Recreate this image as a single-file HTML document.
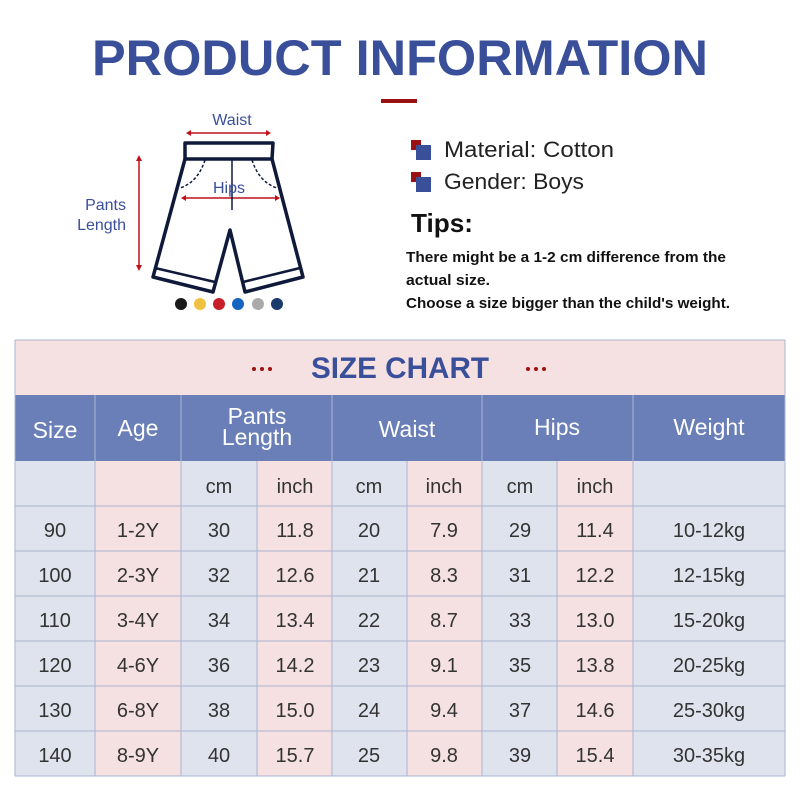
<!DOCTYPE html>
<html><head><meta charset="utf-8"><style>body{margin:0;background:#fff}svg{display:block}</style></head>
<body>
<svg width="800" height="800" viewBox="0 0 800 800" xmlns="http://www.w3.org/2000/svg" font-family="Liberation Sans, sans-serif">
<rect width="800" height="800" fill="#fff"/>
<text x="400" y="75" text-anchor="middle" font-size="50" font-weight="bold" fill="#3a4f9a" textLength="616" lengthAdjust="spacingAndGlyphs">PRODUCT INFORMATION</text>
<rect x="381" y="99" width="36" height="4" fill="#9b1010"/>
<!-- shorts -->
<g stroke="#c0101a" stroke-width="1.5" fill="#c0101a">
<line x1="189" y1="133" x2="268" y2="133"/><path d="M186 133l5-3v6zM271 133l-5-3v6z" stroke="none"/>
<line x1="184" y1="198" x2="277" y2="198"/><path d="M181 198l5-3v6zM280 198l-5-3v6z" stroke="none"/>
<line x1="139" y1="158" x2="139" y2="268"/><path d="M139 155l-3 6h6zM139 271l-3-6h6z" stroke="none"/>
</g>
<g fill="none" stroke="#0f1a3a" stroke-width="3.5" stroke-linejoin="round">
<path d="M185 143 L273 143 L272 159 L185 159 Z"/>
<path d="M185 159 L153 277 L213 292 L230 230 L245 292 L303 277 L272 159"/>
<path d="M155 268 L215 282 M243 282 L300 268" stroke-width="2.5"/>
</g>
<g fill="none" stroke="#0f1a3a" stroke-width="1.5" stroke-dasharray="3 2">
<path d="M205 160 Q198 182 180 188"/><path d="M252 160 Q259 182 277 188"/>
</g>
<line x1="232" y1="160" x2="232" y2="210" stroke="#0f1a3a" stroke-width="1.5"/>
<text x="232" y="125" text-anchor="middle" font-size="16" fill="#3a4f9a">Waist</text>
<text x="229" y="193" text-anchor="middle" font-size="16" fill="#3a4f9a">Hips</text>
<text x="126" y="210" text-anchor="end" font-size="16" fill="#3a4f9a">Pants</text>
<text x="126" y="230" text-anchor="end" font-size="16" fill="#3a4f9a">Length</text>
<circle cx="181" cy="304" r="6" fill="#1a1a1a"/><circle cx="200" cy="304" r="6" fill="#f0c040"/><circle cx="219" cy="304" r="6" fill="#c8202a"/><circle cx="238" cy="304" r="6" fill="#1565c0"/><circle cx="258" cy="304" r="6" fill="#aaaaaa"/><circle cx="277" cy="304" r="6" fill="#1a3a6a"/>
<!-- right info -->
<rect x="411" y="140" width="10" height="10" fill="#9b1010"/><rect x="416" y="145" width="15" height="15" fill="#3a4f9a"/>
<rect x="411" y="172" width="10" height="10" fill="#9b1010"/><rect x="416" y="177" width="15" height="15" fill="#3a4f9a"/>
<text x="444" y="157" font-size="22" fill="#222" textLength="170" lengthAdjust="spacingAndGlyphs">Material: Cotton</text>
<text x="444" y="189" font-size="22" fill="#222" textLength="140" lengthAdjust="spacingAndGlyphs">Gender: Boys</text>
<text x="411" y="232" font-size="26" font-weight="bold" fill="#111" textLength="62" lengthAdjust="spacingAndGlyphs">Tips:</text>
<g font-size="15" font-weight="bold" fill="#111">
<text x="406" y="262" textLength="320" lengthAdjust="spacingAndGlyphs">There might be a 1-2 cm difference from the</text>
<text x="406" y="285" textLength="84" lengthAdjust="spacingAndGlyphs">actual size.</text>
<text x="406" y="308" textLength="324" lengthAdjust="spacingAndGlyphs">Choose a size bigger than the child's weight.</text>
</g>
<!-- table -->
<rect x="15" y="340" width="770" height="55" fill="#f5e1e1"/>
<text x="400" y="378" text-anchor="middle" font-size="30" font-weight="bold" fill="#3a4f9a" textLength="178" lengthAdjust="spacingAndGlyphs">SIZE CHART</text>
<g fill="#a01010"><circle cx="254" cy="369" r="2"/><circle cx="262" cy="369" r="2"/><circle cx="270" cy="369" r="2"/><circle cx="528" cy="369" r="2"/><circle cx="536" cy="369" r="2"/><circle cx="544" cy="369" r="2"/></g>
<rect x="15" y="395" width="770" height="66" fill="#6a7fb8"/>
<g fill="#dfe3ee"><rect x="15" y="461" width="80" height="315"/><rect x="181" y="461" width="76" height="315"/><rect x="332" y="461" width="75" height="315"/><rect x="482" y="461" width="75" height="315"/><rect x="633" y="461" width="152" height="315"/></g>
<g fill="#f5e1e1"><rect x="95" y="461" width="86" height="315"/><rect x="257" y="461" width="75" height="315"/><rect x="407" y="461" width="75" height="315"/><rect x="557" y="461" width="76" height="315"/></g>
<g stroke="#aab4cf" stroke-width="1">
<line x1="15" y1="340" x2="785" y2="340"/><line x1="15" y1="776" x2="785" y2="776"/>
<line x1="15" y1="340" x2="15" y2="776"/><line x1="785" y1="340" x2="785" y2="776"/>
<line x1="15" y1="506" x2="785" y2="506"/><line x1="15" y1="551" x2="785" y2="551"/><line x1="15" y1="596" x2="785" y2="596"/><line x1="15" y1="641" x2="785" y2="641"/><line x1="15" y1="686" x2="785" y2="686"/><line x1="15" y1="731" x2="785" y2="731"/>
<line x1="95" y1="395" x2="95" y2="776"/><line x1="181" y1="395" x2="181" y2="776"/><line x1="332" y1="395" x2="332" y2="776"/><line x1="482" y1="395" x2="482" y2="776"/><line x1="633" y1="395" x2="633" y2="776"/>
<line x1="257" y1="461" x2="257" y2="776"/><line x1="407" y1="461" x2="407" y2="776"/><line x1="557" y1="461" x2="557" y2="776"/>
</g>
<g font-size="23" fill="#fff" text-anchor="middle">
<text x="55" y="438">Size</text><text x="138" y="436">Age</text>
<text x="257" y="424">Pants</text><text x="257" y="445">Length</text>
<text x="407" y="437">Waist</text><text x="557" y="435">Hips</text><text x="709" y="435">Weight</text>
</g>
<g font-size="20" fill="#333" text-anchor="middle">
<text x="219" y="493">cm</text><text x="295" y="493">inch</text><text x="369" y="493">cm</text><text x="444" y="493">inch</text><text x="520" y="493">cm</text><text x="595" y="493">inch</text>
<text x="55" y="537">90</text><text x="138" y="537">1-2Y</text><text x="219" y="537">30</text><text x="295" y="537">11.8</text><text x="369" y="537">20</text><text x="444" y="537">7.9</text><text x="520" y="537">29</text><text x="595" y="537">11.4</text><text x="709" y="537">10-12kg</text>
<text x="55" y="582">100</text><text x="138" y="582">2-3Y</text><text x="219" y="582">32</text><text x="295" y="582">12.6</text><text x="369" y="582">21</text><text x="444" y="582">8.3</text><text x="520" y="582">31</text><text x="595" y="582">12.2</text><text x="709" y="582">12-15kg</text>
<text x="55" y="627">110</text><text x="138" y="627">3-4Y</text><text x="219" y="627">34</text><text x="295" y="627">13.4</text><text x="369" y="627">22</text><text x="444" y="627">8.7</text><text x="520" y="627">33</text><text x="595" y="627">13.0</text><text x="709" y="627">15-20kg</text>
<text x="55" y="672">120</text><text x="138" y="672">4-6Y</text><text x="219" y="672">36</text><text x="295" y="672">14.2</text><text x="369" y="672">23</text><text x="444" y="672">9.1</text><text x="520" y="672">35</text><text x="595" y="672">13.8</text><text x="709" y="672">20-25kg</text>
<text x="55" y="717">130</text><text x="138" y="717">6-8Y</text><text x="219" y="717">38</text><text x="295" y="717">15.0</text><text x="369" y="717">24</text><text x="444" y="717">9.4</text><text x="520" y="717">37</text><text x="595" y="717">14.6</text><text x="709" y="717">25-30kg</text>
<text x="55" y="762">140</text><text x="138" y="762">8-9Y</text><text x="219" y="762">40</text><text x="295" y="762">15.7</text><text x="369" y="762">25</text><text x="444" y="762">9.8</text><text x="520" y="762">39</text><text x="595" y="762">15.4</text><text x="709" y="762">30-35kg</text>
</g>
</svg>
</body></html>
